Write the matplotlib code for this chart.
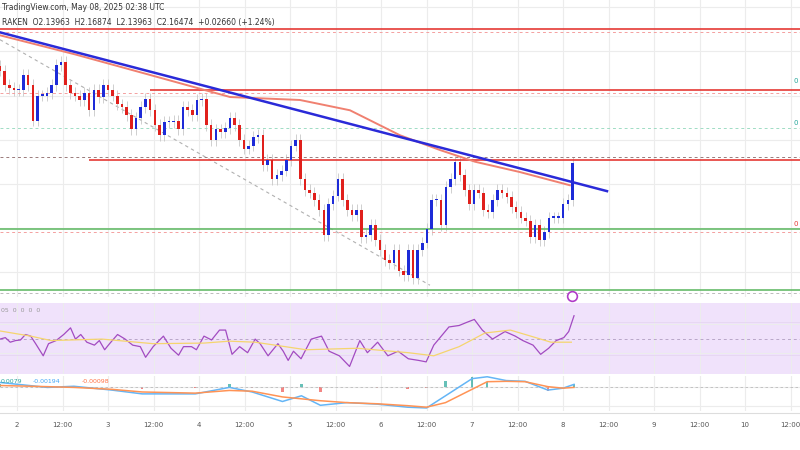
import matplotlib
matplotlib.use("Agg")
import matplotlib.pyplot as plt
import numpy as np

# ---- data ----
closes = [2.227,2.217,2.215,2.214,2.214,2.224,2.217,2.193,2.210,2.210,2.212,2.217,2.231,2.233,2.217,2.212,2.210,2.207,
          2.212,2.200,2.214,2.209,2.217,2.214,2.210,2.204,2.202,2.197,2.187,2.195,2.202,2.208,2.200,2.190,2.183,2.192,
          2.192,2.193,2.187,2.202,2.200,2.197,2.207,2.208,2.190,2.180,2.187,2.185,2.188,2.195,2.190,2.180,2.174,2.176,
          2.182,2.183,2.163,2.166,2.153,2.156,2.159,2.166,2.176,2.180,2.153,2.146,2.144,2.139,2.132,2.115,2.136,2.142,
          2.153,2.139,2.132,2.129,2.132,2.114,2.115,2.122,2.112,2.105,2.098,2.096,2.105,2.091,2.088,2.105,2.086,2.105,
          2.110,2.119,2.139,2.139,2.122,2.148,2.153,2.165,2.156,2.146,2.136,2.146,2.144,2.132,2.131,2.139,2.146,2.144,
          2.141,2.134,2.131,2.127,2.125,2.114,2.122,2.112,2.117,2.127,2.127,2.127,2.136,2.139,2.164]
wick = 0.004
first_hour, last_hour = -4.5, 146.5

ma_hours = [-4.5, 15.3, 35.1, 56.2, 74.6, 87.8, 101, 111.5, 120.8, 132.6, 145.8]
ma_price = [2.251, 2.238, 2.224, 2.209, 2.207, 2.200, 2.183, 2.173, 2.165, 2.158, 2.149]

rsi_hours = [-4.5,-3.1,-1.8,-0.4,0.9,2.2,3.6,4.9,6.9,8.3,10.3,12.3,14.1,15.4,16.8,18.4,20.4,21.7,23.1,24.4,26.5,28.5,
             30.5,32.5,33.9,35.9,38.6,40.6,42.6,43.9,46.0,47.3,49.3,51.3,53.4,55.0,56.7,58.7,60.8,62.8,64.1,66.2,68.8,
             70.2,71.5,72.9,74.9,77.6,80.3,82.3,85.0,87.7,90.4,92.4,95.1,97.8,100.5,103.2,105.9,107.9,109.9,113.9,
             116.6,118.6,120.6,122.7,125.4,128.7,131.4,133.4,136.1,138.1,140.2,142.2,144.2,145.5,146.9]
rsi_vals = [49.6,50.6,47.5,48.6,49.0,52.7,51.6,46.5,38.3,46.5,48.6,52.7,57.2,49.6,52.7,47.5,45.5,48.6,42.4,46.5,52.7,
            49.6,45.5,44.5,37.3,44.5,51.6,43.4,38.7,44.5,44.5,42.4,51.6,49.0,55.7,55.7,39.3,44.5,40.4,49.6,46.5,38.3,
            46.5,41.4,35.2,41.4,36.3,49.6,51.6,41.4,38.3,31.1,48.6,40.4,47.5,38.3,41.4,36.3,35.2,34.2,45.5,57.8,58.8,
            60.9,62.9,55.7,49.6,54.7,51.6,48.6,45.5,39.3,43.4,48.6,50.6,54.7,65.4]
rsima_hours = [-4.5,3.6,9,22.4,35.9,49.3,56,62.8,76.2,89.7,103.2,109.9,116.6,123.4,130.1,136.8,140.8,146.2]
rsima_vals = [55.1,51.6,48.6,49.6,46.5,46.9,48.2,47.5,42.4,43.4,40.4,38.3,44.5,53.7,55.7,50.6,47.5,47.5]

macd_hours = [-4.5,8,15,25,33,47,56,62,70,75,80,87,95,103,108,113,120,124,129,134,140,144,146.9]
macd_vals = [0.0013,0.0000,0.0003,-0.0007,-0.0017,-0.0017,0.0000,-0.0012,-0.0037,-0.0022,-0.0047,-0.0040,-0.0044,
             -0.0052,-0.0054,-0.0022,0.0023,0.0028,0.0018,0.0016,-0.0007,-0.0002,0.0008]
sig_vals = [0.0005,0.0002,0.0000,-0.0005,-0.0012,-0.0015,-0.0008,-0.0010,-0.0025,-0.0030,-0.0035,-0.0040,-0.0043,
            -0.0048,-0.0052,-0.0040,-0.0005,0.0015,0.0016,0.0015,0.0002,-0.0002,0.0000]

tick_hours = list(range(0, 205, 12))
tick_labels = ["2","12:00","3","12:00","4","12:00","5","12:00","6","12:00","7","12:00","8","12:00","9","12:00","10","12:00"]

# ---- figure ----
fig = plt.figure(figsize=(8, 4.5), dpi=100)
W, H = 800, 450
def ax_at(top, bottom):
    return fig.add_axes([0, 1 - bottom / H, 1, (bottom - top) / H])

xl = (-4.5, 206.5)
grid_c = "#ececec"
ax = ax_at(0, 297)
rax = ax_at(303, 374)
max_ = ax_at(376, 411)

n = len(closes)
hrs = np.linspace(first_hour, last_hour, n)
step = hrs[1] - hrs[0]
opens = [closes[0] + 0.003] + closes[:-1]
for t, o, c in zip(hrs, opens, closes):
    col = "#1d2bd8" if c >= o else "#e0201c"
    ax.vlines(t, min(o, c) - wick, max(o, c) + wick, color="#c8c8c8", lw=0.6, zorder=2)
    ax.bar(t, max(abs(c - o), 0.0008), bottom=min(o, c), width=step * 0.55, color=col, zorder=3)

# levels
ax.axhline(2.255, color="#e53935", lw=1.2)
ax.axhline(2.253, color="#f4a0a0", lw=0.7, ls=(0, (3, 3)))
ax.hlines(2.214, 35, xl[1], color="#e53935", lw=1.2)
ax.axhline(2.212, color="#f4a0a0", lw=0.7, ls=(0, (3, 3)))
ax.hlines(2.166, 19, xl[1], color="#e53935", lw=1.2)
ax.axhline(2.168, color="#9a7a7a", lw=0.7, ls=(0, (3, 3)))
ax.axhline(2.188, color="#9fdcc4", lw=0.7, ls=(0, (3, 3)))
ax.axhline(2.119, color="#66bb6a", lw=1.2)
ax.axhline(2.117, color="#f4a0a0", lw=0.7, ls=(0, (3, 3)))
ax.axhline(2.078, color="#66bb6a", lw=1.2)
ax.axhline(2.076, color="#bbbbbb", lw=0.7, ls=(0, (3, 3)))
ax.plot(ma_hours, ma_price, color="#f08070", lw=1.4, zorder=4)
ax.plot([-4.5, 155.6], [2.253, 2.145], color="#2a2ad8", lw=1.8, zorder=5)
ax.plot([-4.5, 108.9], [2.248, 2.081], color="#b0b0b0", lw=0.8, ls=(0, (3, 3)), zorder=1)
ax.plot([146.3], [2.074], marker="o", ms=7, mfc="white", mec="#b03cc8", mew=1.2, clip_on=False, zorder=6)
ax.text(0.998, 0.72, "0", transform=ax.transAxes, color="#26a69a", fontsize=5, ha="right")
ax.text(0.998, 0.58, "0", transform=ax.transAxes, color="#26a69a", fontsize=5, ha="right")
ax.text(0.998, 0.24, "0", transform=ax.transAxes, color="#e53935", fontsize=5, ha="right")

fig.text(2 / W, 1 - 8 / H, "TradingView.com, May 08, 2025 02:38 UTC", fontsize=5.5, color="#333333", va="center")
fig.text(2 / W, 1 - 22 / H, "RAKEN  O2.13963  H2.16874  L2.13963  C2.16474  +0.02660 (+1.24%)", fontsize=5.5,
         color="#333333", va="center")

# RSI
rax.axhspan(26, 74, color="#f0e2fb", zorder=0)
rax.axhline(50, color="#b9a7c9", lw=0.7, ls=(0, (3, 3)))
rax.axhline(61, color="#e6d5f2", lw=0.6)
rax.axhline(39, color="#e6d5f2", lw=0.6)
rax.plot(rsi_hours, rsi_vals, color="#a24bc1", lw=0.9)
rax.plot(rsima_hours, rsima_vals, color="#f5d56e", lw=0.9)
rax.text(-4.3, 69, "05  0  0  0  0", fontsize=4.5, color="#999999", va="center")

# MACD
max_.axhline(0, color="#bbbbbb", lw=0.6, ls=(0, (3, 3)))
hist = np.array(macd_vals) - np.array(sig_vals)
hcol = ["#26a69a" if h >= 0 else "#ef5350" for h in hist]
max_.bar(macd_hours, hist, width=0.6, color=hcol, alpha=0.7)
max_.plot(macd_hours, macd_vals, color="#64b5f6", lw=1.1)
max_.plot(macd_hours, sig_vals, color="#ff9355", lw=1.1)
max_.text(-4.3, 0.0016, "0.0079", fontsize=4.5, color="#26a69a", va="center")
max_.text(4, 0.0016, "-0.00194", fontsize=4.5, color="#42a5f5", va="center")
max_.text(17, 0.0016, "-0.00098", fontsize=4.5, color="#ff7043", va="center")

ax.set_ylim(2.073, 2.275)
ax.set_yticks([2.09, 2.12, 2.15, 2.18, 2.21, 2.24, 2.27])
rax.set_ylim(26, 74)
max_.set_ylim(-0.0062, 0.0030)
for a in (ax, rax, max_):
    a.set_xlim(*xl)
    a.set_xticks(tick_hours)
    a.tick_params(length=0, labelbottom=False, labelleft=False)
    a.grid(True, color=grid_c, lw=0.8)
    a.set_axisbelow(True)
    for s in a.spines.values():
        s.set_visible(False)
max_.set_xticklabels(tick_labels)
max_.tick_params(labelbottom=True, labelsize=5, labelcolor="#555555", pad=8)

fig.add_artist(plt.Line2D([0, 1], [1 - 413 / H, 1 - 413 / H], color="#dddddd", lw=0.8))

fig.savefig("out.png", dpi=100, facecolor="white")
